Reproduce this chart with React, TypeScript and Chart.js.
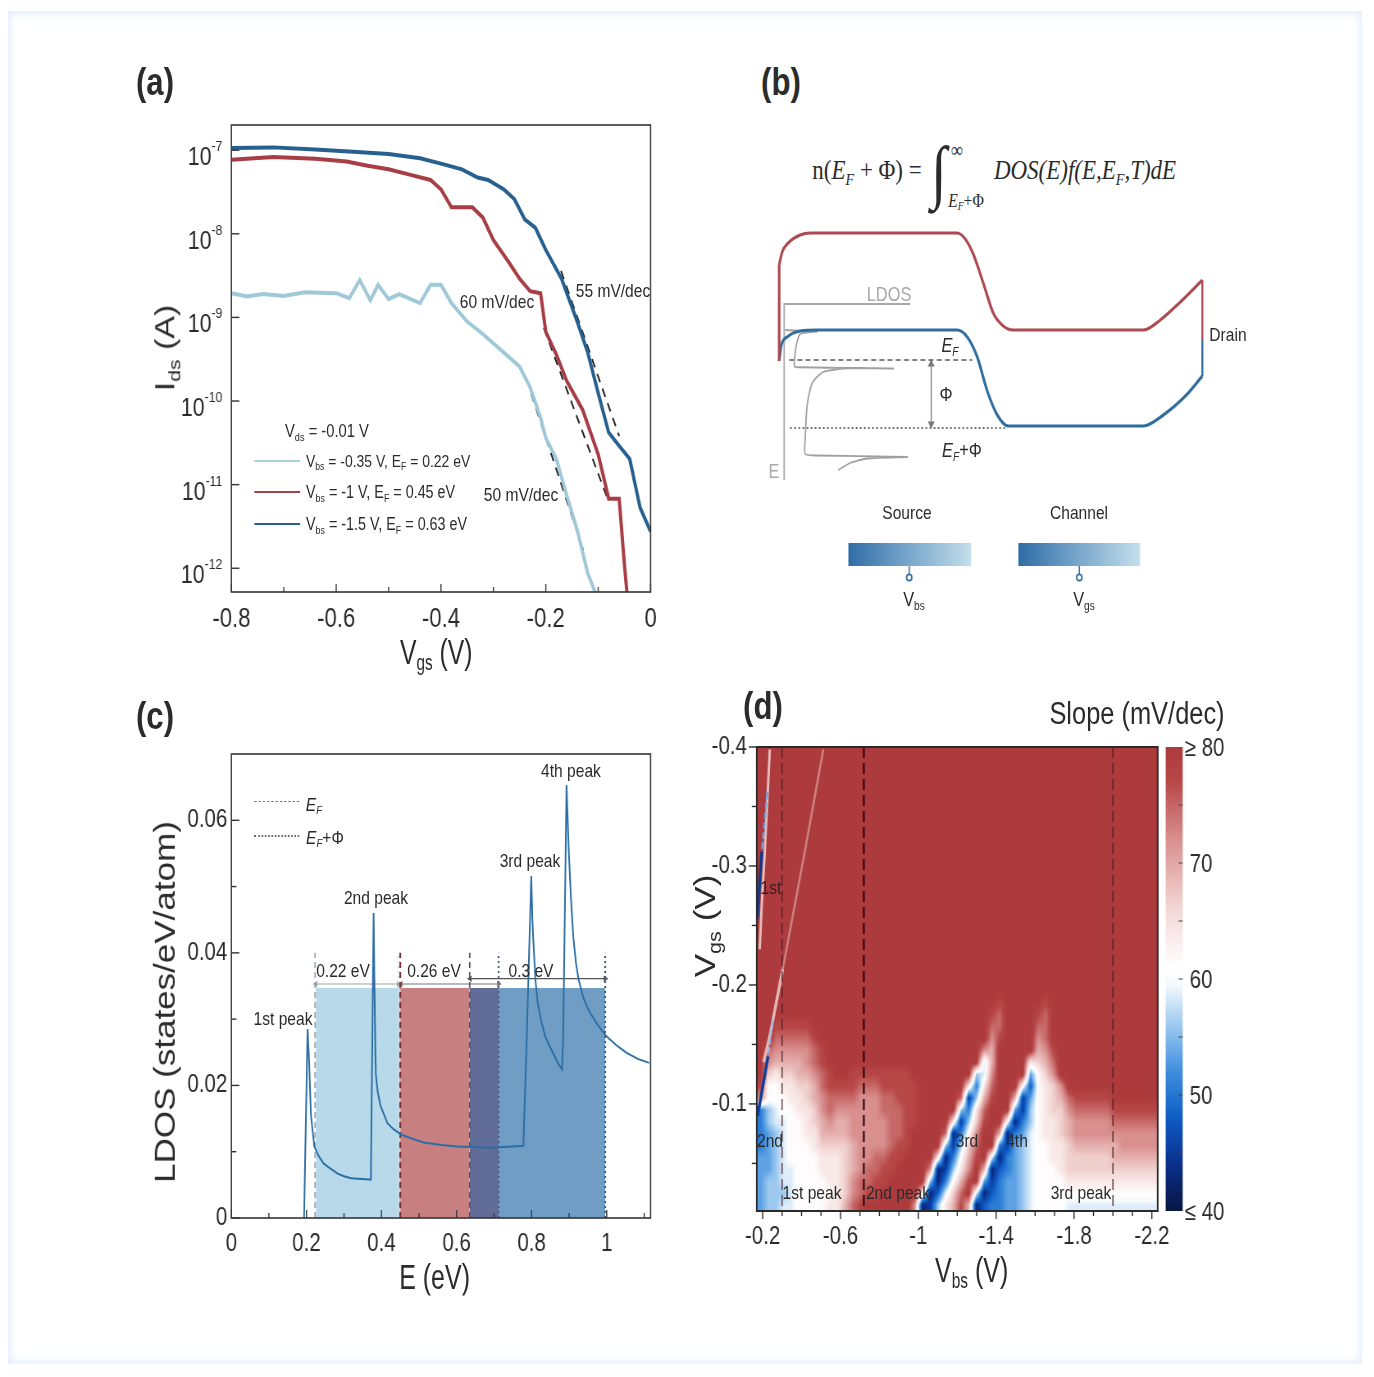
// Four panel figure: transfer curves, band sketch, LDOS and slope map
import React, { useRef, useEffect } from 'react';
import { Chart, registerables } from 'chart.js';

Chart.register(...registerables);

// the picture is narrower than it is tall, so the page is laid out wide and squeezed
const SQUEEZE = 0.82;
const vx = (px: number) => px / SQUEEZE;
const SANS = '"Liberation Sans", Arial, sans-serif';
const SERIF = '"Liberation Serif", serif';
const INK = '#2b2b2b';

// ---- panel (a)
const vgsLight = [-0.8, -0.77, -0.74, -0.7, -0.66, -0.6, -0.575, -0.555, -0.535, -0.52, -0.5, -0.48, -0.44, -0.42, -0.4, -0.38, -0.35, -0.32, -0.28, -0.25, -0.23, -0.21, -0.2, -0.18, -0.16, -0.14, -0.12, -0.105];
const idsLight = [1.95e-9, 1.78e-9, 1.9e-9, 1.8e-9, 2.0e-9, 1.95e-9, 1.7e-9, 2.8e-9, 1.6e-9, 2.45e-9, 1.65e-9, 1.9e-9, 1.48e-9, 2.45e-9, 2.45e-9, 1.48e-9, 8.9e-10, 6.3e-10, 3.8e-10, 2.57e-10, 1.46e-10, 6.3e-11, 3.6e-11, 2.04e-11, 7.4e-12, 2.85e-12, 8.7e-13, 5e-13];
const vgsRed = [-0.8, -0.72, -0.64, -0.58, -0.54, -0.5, -0.46, -0.42, -0.4, -0.38, -0.34, -0.32, -0.3, -0.27, -0.25, -0.23, -0.21, -0.2, -0.18, -0.16, -0.13, -0.1, -0.08, -0.06, -0.05, -0.045];
const idsRed = [7.7e-8, 8.3e-8, 7.9e-8, 7.3e-8, 6.5e-8, 5.9e-8, 5.1e-8, 4.4e-8, 3.4e-8, 2.07e-8, 2.07e-8, 1.56e-8, 8.4e-9, 4.5e-9, 2.9e-9, 2.06e-9, 1.95e-9, 6.7e-10, 3.6e-10, 1.73e-10, 7.9e-11, 2.3e-11, 6.8e-12, 6.8e-12, 1.1e-12, 5e-13];
const vgsDark = [-0.8, -0.72, -0.64, -0.56, -0.5, -0.44, -0.4, -0.36, -0.33, -0.31, -0.28, -0.26, -0.24, -0.22, -0.2, -0.17, -0.14, -0.12, -0.1, -0.08, -0.06, -0.04, -0.02, 0];
const idsDark = [1.06e-7, 1.08e-7, 1.02e-7, 9.5e-8, 9.0e-8, 8.0e-8, 6.9e-8, 5.9e-8, 4.7e-8, 4.4e-8, 3.4e-8, 2.6e-8, 1.48e-8, 1.18e-8, 6.4e-9, 2.9e-9, 8.9e-10, 3.8e-10, 1.24e-10, 4.2e-11, 2.9e-11, 2.04e-11, 5.3e-12, 2.75e-12];
const slope55 = [{ x: -0.171, y: 3.6e-9 }, { x: -0.06, y: 3.8e-11 }];
const slope60 = [{ x: -0.204, y: 7.5e-10 }, { x: -0.083, y: 7e-12 }];
const slope50 = [{ x: -0.228, y: 1.23e-10 }, { x: -0.128, y: 1.6e-12 }];
const vgsTicks = [-0.8, -0.6, -0.4, -0.2, 0];
const vgsMinor = [-0.7, -0.5, -0.3, -0.1];
const idsDecades = [-7, -8, -9, -10, -11, -12];

// ---- panel (b), read in picture units
const redBandX = [779, 782, 788, 800, 810, 957, 965, 973, 983, 993, 1003, 1013, 1143, 1160, 1180, 1202];
const redBandY = [265, 252, 243, 235, 233, 233, 239, 254, 283, 313, 326, 330, 330, 320, 302, 280];
const blueBandX = [779, 781, 787, 800, 817, 957, 967, 977, 987, 997, 1008, 1143, 1163, 1187, 1202];
const blueBandY = [361, 346, 337, 331, 330, 330, 337, 357, 391, 415, 426, 426, 415, 394, 376];
const ldosAxisX = [910, 784, 784];
const ldosAxisY = [304, 304, 480];
const ldosCurveX = [785, 817, 800, 796, 794, 795, 893, 850, 823, 812, 807, 805, 805, 817, 907, 867, 850, 838];
const ldosCurveY = [330, 331.5, 334, 346, 365, 367, 368.5, 368, 372, 383, 405, 439, 454, 455.5, 457, 458.5, 463, 470];
const sourceBar = [848, 971];
const channelBar = [1018, 1140];
const barSpan = [543, 566];

// ---- panel (c)
const energy = [0.1936, 0.203, 0.207, 0.212, 0.221, 0.232, 0.246, 0.265, 0.283, 0.3, 0.319, 0.368, 0.3716, 0.379, 0.381, 0.3835, 0.385, 0.39, 0.397, 0.4156, 0.432, 0.452, 0.48, 0.512, 0.56, 0.604, 0.695, 0.778, 0.787, 0.799, 0.802, 0.804, 0.81, 0.816, 0.824, 0.835, 0.847, 0.87, 0.881, 0.884, 0.893, 0.897, 0.899, 0.905, 0.911, 0.918, 0.925, 0.938, 0.952, 0.975, 0.998, 1.025, 1.053, 1.083, 1.113];
const ldos = [0, 0.0285, 0.0237, 0.0155, 0.0108, 0.0094, 0.0082, 0.0074, 0.0067, 0.0063, 0.006, 0.0058, 0.0058, 0.046, 0.036, 0.0255, 0.0215, 0.019, 0.017, 0.0143, 0.0134, 0.0126, 0.012, 0.0114, 0.011, 0.0108, 0.0106, 0.0109, 0.0272, 0.0516, 0.045, 0.0424, 0.036, 0.0325, 0.0301, 0.0276, 0.026, 0.0234, 0.0224, 0.0272, 0.0653, 0.0585, 0.0553, 0.048, 0.0424, 0.0385, 0.036, 0.0332, 0.0313, 0.0292, 0.0275, 0.0261, 0.0249, 0.024, 0.0234];
const bandEdges = [0.225, 0.45, 0.635, 0.712, 0.996];
const bandColors = ['#b8d9e9', '#c77f80', '#616c97', '#709dc4'];
const bandTop = 0.0347;
const fermiLevels = [0.223, 0.45, 0.635];
const fermiColors = ['#9aa7ad', '#7a3035', '#55596b'];
const shiftedLevels = [0.445, 0.712, 0.996];
const shiftedColors = ['#d8dde0', '#4a5a80', '#35597d'];
const energyTicks = [0, 0.2, 0.4, 0.6, 0.8, 1];
const energyMinor = [0.1, 0.3, 0.5, 0.7, 0.9, 1.1];
const ldosTicks = [0, 0.02, 0.04, 0.06];
const ldosMinor = [0.01, 0.03, 0.05];

// ---- panel (d): slope codes per row from Vgs -0.4 (top) down, Vbs -0.17 to -2.23, 0 = 40 and f = 80 mV/dec
const slopeRows = [
  'f', 'f', 'f', 'f', 'f', 'f', 'f', 'f', 'f', 'f', 'f', 'f', 'f', 'f', 'f', 'f', 'f', 'f', 'f', 'f', 'f',
  'fffff fffff fffff fffff fffff fffff fefff ffeff',
  'fffff fffff fffff fffff fffff fffff edfff fedff',
  'ffeee eefff fffff fffff fffff fffff ddfff fddff',
  'ffddd ddeff fffff fffff fffff fffff cefff fcdff',
  'fdccc ccdef fffff fffff fffff ffffc bffff fbcef',
  'fcbbb bcdef fffff fffff fffff ffff7 bffff 9abdf',
  'fa9aa bbcde ffeee eeeee fffff fff67 cffff 58acf',
  'e8899 aabde eeedd deeee effff ff949 dfff8 389ac',
  'c8889 9abcd dddcc cddee effff fd26b effb2 589ab deeee efffff',
  '46788 99acd ccccc cddde effff f649d fff52 689aa cdddd deeee ee',
  '46778 89abc bbccc ccdde effff 926ae ff814 6899a bcccc cdddd dd',
  '45678 899bb bbccc ccdde ffffd 148cf fb145 7899a bcccc ccccc cc',
  '45678 889aa aabcc ccdee ffff6 26adf f4256 78899 abbbb bbccc cc',
  '55678 88899 9abcc ddeef fff91 48bef 71456 78899 aaaaa abbbb bb',
  '55677 88899 9abcd deeff ffc12 69cfb 13456 78889 aaaaa aaaaa aa',
  '56677 88889 9acdd eefff ff614 8bef5 24556 78888 99999 99999 99',
  '56667 88888 9acde effff f9137 adf71 34556 78888 88888 88888 88',
  '56677 88889 9bdef fffff c1269 beb13 44556 78888 77777 77777 77',
];
const slopeCols = 52;
const vbsRange = [-2.23, -0.17];
const vgsRange = [-0.4, -0.01];
const peakLines = [-0.3, -0.72, -2.0];
const peakWidths = [1.3, 2.2, 1.3];
// thin ridges of the map, too narrow for the grid above
const ridgeFarVbs = [-0.512, -0.42, -0.303];
const ridgeFarVgs = [-0.398, -0.315, -0.213];
const ridgeLowVbs = [-0.303, -0.237, -0.205];
const ridgeLowVgs = [-0.213, -0.157, -0.135];
const ridgeEdgeVbs = [-0.252, -0.228];
const ridgeEdgeVgs = [-0.17, -0.14];
const ridgeDarkVbs = [-0.228, -0.174];
const ridgeDarkVgs = [-0.14, -0.09];
const ridgeNearVbs = [-0.237, -0.224, -0.211, -0.196, -0.185];
const ridgeNearVgs = [-0.398, -0.355, -0.312, -0.269, -0.23];
const ridgeBlueVbs = [-0.224, -0.196];
const ridgeBlueVgs = [-0.362, -0.312];
const ridgeNavyVbs = [-0.196, -0.172];
const ridgeNavyVgs = [-0.312, -0.256];
const vbsTicks = [-0.2, -0.6, -1, -1.4, -1.8, -2.2];
const vbsMinor = [-0.3, -0.4, -0.5, -0.7, -0.8, -0.9, -1.1, -1.2, -1.3, -1.5, -1.6, -1.7, -1.9, -2, -2.1];
const vgsMapTicks = [-0.4, -0.3, -0.2, -0.1];
const vgsMapMinor = [-0.35, -0.25, -0.15, -0.05];
const barTicks = [40, 50, 60, 70, 80];
const barLabels = ['≤ 40', '50', '60', '70', '≥ 80'];
const barMinor = [45, 50, 55, 60, 65, 70, 75];
const slopeStops: [number, number[]][] = [
  [40, [8, 22, 64]], [44, [10, 47, 140]], [48, [15, 92, 196]], [52, [62, 142, 222]], [56, [156, 200, 239]],
  [59.5, [244, 249, 253]], [61, [255, 255, 255]], [66, [243, 216, 214]], [72, [216, 143, 142]], [77, [184, 72, 72]], [80, [173, 58, 60]],
];

const slopeColor = (v: number) => {
  for (let i = 1; i < slopeStops.length; i++) {
    const [b, cb] = slopeStops[i];
    if (v <= b) {
      const [a, ca] = slopeStops[i - 1];
      const t = Math.max(0, (v - a) / (b - a));
      return ca.map((c, j) => c + (cb[j] - c) * t);
    }
  }
  return slopeStops[slopeStops.length - 1][1];
};

const zip = (xs: number[], ys: number[]) => xs.map((x, i) => ({ x, y: ys[i] }));
const vertical = (x: number, y0: number, y1: number) => [{ x, y: y0 }, { x, y: y1 }];
const fixedTicks = (list: number[]) => (scale: any) => { scale.ticks = list.map((value) => ({ value })); };
const shortNum = (v: any) => String(+Number(v).toFixed(2));

const line = (data: any[], color: string, width: number, extra: any = {}) => ({
  type: 'scatter', data, showLine: true, borderColor: color, borderWidth: width, pointRadius: 0, fill: false, tension: 0, ...extra,
});

// frame and inward or outward tick marks, placed by the scales
const frameTicks = (o: any) => ({
  id: 'frameTicks',
  afterDraw(chart: any) {
    const { ctx, chartArea: a, scales } = chart;
    ctx.save();
    ctx.strokeStyle = o.color || '#333';
    ctx.lineWidth = 1.4;
    const mark = (x0: number, y0: number, x1: number, y1: number) => {
      ctx.beginPath(); ctx.moveTo(x0, y0); ctx.lineTo(x1, y1); ctx.stroke();
    };
    const xTicks = (list: number[], len: number) => list.forEach((v) => {
      const px = scales.x.getPixelForValue(v);
      mark(px, a.bottom, px, a.bottom - len * o.dir);
    });
    const yTicks = (list: number[], len: number) => list.forEach((v) => {
      const py = scales.y.getPixelForValue(v);
      mark(a.left, py, a.left + (len / SQUEEZE) * o.dir, py);
    });
    xTicks(o.xMajor, 8); xTicks(o.xMinor, 5);
    yTicks(o.yMajor, 8); yTicks(o.yMinor, 5);
    ctx.lineWidth = o.frame || 1.6;
    ctx.strokeRect(a.left, a.top, a.right - a.left, a.bottom - a.top);
    ctx.restore();
  },
});

// "10" with a raised exponent for the log axis
const decadeLabels = {
  id: 'decadeLabels',
  afterDraw(chart: any) {
    const { ctx, chartArea: a, scales } = chart;
    ctx.save();
    ctx.fillStyle = INK;
    ctx.textAlign = 'right';
    idsDecades.forEach((d) => {
      const py = scales.y.getPixelForValue(Math.pow(10, d));
      ctx.font = `15px ${SANS}`;
      const exp = String(d);
      ctx.fillText(exp, a.left - vx(9), py + 1);
      const w = ctx.measureText(exp).width;
      ctx.font = `26px ${SANS}`;
      ctx.fillText('10', a.left - vx(9) - w, py + 15);
    });
    ctx.restore();
  },
};

const heatmap = {
  id: 'heatmap',
  beforeDatasetsDraw(chart: any) {
    const { ctx, chartArea: a, scales } = chart;
    const rows = slopeRows.map((r) => r.replace(/ /g, '').padEnd(slopeCols, 'f').split('').map((ch) => 40 + (parseInt(ch, 16) * 40) / 15));
    const w = Math.ceil(a.right - a.left);
    const h = Math.ceil(a.bottom - a.top);
    const off = document.createElement('canvas');
    off.width = w; off.height = h;
    const octx = off.getContext('2d') as CanvasRenderingContext2D;
    const img = octx.createImageData(w, h);
    const colStep = (vbsRange[1] - vbsRange[0]) / slopeCols;
    const rowStep = (vgsRange[1] - vgsRange[0]) / rows.length;
    for (let py = 0; py < h; py++) {
      const fr = Math.min(rows.length - 1, Math.max(0, (scales.y.getValueForPixel(a.top + py + 0.5) - vgsRange[0]) / rowStep - 0.5));
      const r0 = Math.floor(fr);
      const r1 = Math.min(rows.length - 1, r0 + 1);
      for (let px = 0; px < w; px++) {
        const fc = Math.min(slopeCols - 1, Math.max(0, (vbsRange[1] - scales.x.getValueForPixel(a.left + px + 0.5)) / colStep - 0.5));
        const c0 = Math.floor(fc);
        const c1 = Math.min(slopeCols - 1, c0 + 1);
        const top = rows[r0][c0] + (rows[r0][c1] - rows[r0][c0]) * (fc - c0);
        const bot = rows[r1][c0] + (rows[r1][c1] - rows[r1][c0]) * (fc - c0);
        const rgb = slopeColor(top + (bot - top) * (fr - r0));
        const i = (py * w + px) * 4;
        img.data[i] = rgb[0]; img.data[i + 1] = rgb[1]; img.data[i + 2] = rgb[2]; img.data[i + 3] = 255;
      }
    }
    octx.putImageData(img, 0, 0);
    ctx.drawImage(off, a.left, a.top, a.right - a.left, a.bottom - a.top);
  },
  afterDraw(chart: any) {
    const { ctx, chartArea: a, scales } = chart;
    const x0 = a.right + vx(8);
    const bw = vx(17);
    for (let py = Math.floor(a.top); py < a.bottom; py++) {
      const rgb = slopeColor(scales.s.getValueForPixel(py + 0.5));
      ctx.fillStyle = `rgb(${rgb[0]},${rgb[1]},${rgb[2]})`;
      ctx.fillRect(x0, py, bw, 1);
    }
    ctx.strokeStyle = '#444';
    ctx.lineWidth = 1;
    barMinor.forEach((v) => {
      const py = scales.s.getPixelForValue(v);
      ctx.beginPath(); ctx.moveTo(x0 + bw, py); ctx.lineTo(x0 + bw - 5, py); ctx.stroke();
    });
    ctx.fillStyle = INK;
    ctx.font = `25px ${SANS}`;
    ctx.textBaseline = 'middle';
    ctx.textAlign = 'left';
    barTicks.forEach((v, i) => {
      const inset = barLabels[i].length > 2 ? 27 : 32;
      ctx.fillText(barLabels[i], a.right + vx(inset), scales.s.getPixelForValue(v) + 2);
    });
  },
};

const baseOptions = (pad: any, scales: any) => ({
  responsive: false,
  animation: false as const,
  events: [],
  layout: { padding: pad, autoPadding: false },
  plugins: { legend: { display: false }, tooltip: { enabled: false } },
  scales,
});

const axisX = (opts: any, labels: number[], height: number, fmt = shortNum, size = 26, padding = 11) => ({
  type: 'linear', ...opts,
  grid: { display: false, drawTicks: false }, border: { display: false },
  afterBuildTicks: fixedTicks(labels),
  afterFit: (s: any) => { s.height = height; },
  ticks: { color: INK, font: { family: SANS, size }, padding, maxRotation: 0, autoSkip: false, callback: fmt },
});

const axisY = (opts: any, labels: number[], width: number, fmt = shortNum, size = 26, padding = 6) => ({
  type: 'linear', ...opts,
  grid: { display: false, drawTicks: false }, border: { display: false },
  afterBuildTicks: fixedTicks(labels),
  afterFit: (s: any) => { s.width = width; },
  ticks: { color: INK, font: { family: SANS, size }, padding, autoSkip: false, callback: fmt },
});

const configA = () => ({
  type: 'scatter',
  data: {
    datasets: [
      line(zip(vgsDark, idsDark), '#27608f', 4),
      line(zip(vgsRed, idsRed), '#a83d45', 4),
      line(zip(vgsLight, idsLight), '#9fc8d8', 4),
      line(slope55, '#222', 2, { borderDash: [9, 7] }),
      line(slope60, '#222', 2, { borderDash: [9, 7] }),
      line(slope50, '#222', 2, { borderDash: [9, 7] }),
    ],
  },
  options: baseOptions({ top: 25, right: vx(30) }, {
    x: axisX({ min: -0.8, max: 0 }, vgsTicks, 68, shortNum, 27),
    y: {
      ...axisY({ min: 5.2e-13, max: 2e-7 }, idsDecades.map((d) => Math.pow(10, d)), vx(101), () => ''),
      type: 'logarithmic',
    },
  }),
  plugins: [frameTicks({ dir: 1, xMajor: vgsTicks, xMinor: vgsMinor, yMajor: idsDecades.map((d) => Math.pow(10, d)), yMinor: [] }), decadeLabels],
});

const barGradient = (span: number[]) => (ctx: any) => {
  const { chart } = ctx;
  const x0 = chart.scales.x?.getPixelForValue(span[0]);
  const x1 = chart.scales.x?.getPixelForValue(span[1]);
  if (!Number.isFinite(x0) || !Number.isFinite(x1)) return '#7aa8cd';
  const g = chart.ctx.createLinearGradient(x0, 0, x1, 0);
  g.addColorStop(0, '#2f6ca6');
  g.addColorStop(0.5, '#7aa8cd');
  g.addColorStop(1, '#c4dfeb');
  return g;
};

const barDataset = (span: number[]) => ({
  type: 'scatter', showLine: true, pointRadius: 0, borderWidth: 0,
  data: [{ x: span[0], y: barSpan[1] }, { x: span[0], y: barSpan[0] }, { x: span[1], y: barSpan[0] }, { x: span[1], y: barSpan[1] }],
  fill: { value: barSpan[1] },
  backgroundColor: barGradient(span),
});

const terminal = (x: number) => [
  line(vertical(x, barSpan[1], 574), '#2f6d9e', 1.5),
  line([{ x, y: 577.5 }], '#2f6d9e', 0, { pointRadius: 3.2, pointBorderWidth: 1.8, pointBorderColor: '#2f6d9e', pointBackgroundColor: '#fff', showLine: false }),
];

const configB = () => ({
  type: 'scatter',
  data: {
    datasets: [
      line(zip(redBandX, redBandY), '#ac4a50', 3.2, { cubicInterpolationMode: 'monotone' }),
      line(vertical(779, 265, 361), '#ac4a50', 3.2),
      line(vertical(1202, 280, 340), '#ac4a50', 2.4),
      line(zip(blueBandX, blueBandY), '#2f6d9e', 3.2, { cubicInterpolationMode: 'monotone' }),
      line(vertical(1202, 340, 376), '#2f6d9e', 2.4),
      line(zip(ldosAxisX, ldosAxisY), '#a8a8a8', 1.8),
      line(zip(ldosCurveX, ldosCurveY), '#a0a0a0', 1.8, { tension: 0.2 }),
      line([{ x: 789, y: 360 }, { x: 972, y: 360 }], '#555', 1.6, { borderDash: [6, 4] }),
      line([{ x: 790, y: 428 }, { x: 1007, y: 428 }], '#666', 2, { borderDash: [2, 3] }),
      line(vertical(931, 364, 424), '#777', 1.3, {
        pointRadius: 3.5, pointStyle: 'triangle', pointRotation: [0, 180], pointBackgroundColor: '#777', pointBorderColor: '#777',
      }),
      barDataset(sourceBar),
      barDataset(channelBar),
      ...terminal(909),
      ...terminal(1079),
    ],
  },
  options: baseOptions(0, {
    x: { type: 'linear', display: false, min: 760, max: 1260 },
    y: { type: 'linear', display: false, reverse: true, min: 220, max: 630 },
  }),
});

const bandDatasets = () => bandColors.map((color, i) => {
  const [a, b] = [bandEdges[i], bandEdges[i + 1]];
  return {
    type: 'scatter', showLine: true, pointRadius: 0, borderWidth: 0, order: 3,
    data: [{ x: a, y: bandTop }, { x: b, y: bandTop }],
    fill: 'origin', backgroundColor: color,
  };
});

const bracket = (a: number, b: number, y: number, color: string) => line([{ x: a, y }, { x: b, y }], color, 1.2, {
  order: 1, pointRadius: 2.5, pointStyle: 'triangle', pointRotation: [270, 90], pointBackgroundColor: color, pointBorderColor: color,
});

const configC = () => ({
  type: 'scatter',
  data: {
    datasets: [
      line(zip(energy, ldos), '#2a6ea6', 2, { order: 0 }),
      ...fermiLevels.map((x, i) => line(vertical(x, 0, 0.04), fermiColors[i], i === 1 ? 2.2 : 1.8, { order: 1, borderDash: [6, 4] })),
      ...shiftedLevels.map((x, i) => line(vertical(x, 0, 0.04), shiftedColors[i], 2.2, { order: 1, borderDash: [2, 3] })),
      bracket(0.225, 0.445, 0.0353, '#9aa3a8'),
      bracket(0.452, 0.712, 0.0353, '#777'),
      bracket(0.636, 0.996, 0.0361, '#555'),
      ...bandDatasets(),
    ],
  },
  options: baseOptions({ top: 24, right: vx(30) }, {
    x: axisX({ min: 0, max: 1.117 }, energyTicks, 62, shortNum, 25),
    y: axisY({ min: 0, max: 0.07 }, ldosTicks, vx(101), shortNum, 25, 5),
  }),
  plugins: [frameTicks({ dir: 1, xMajor: energyTicks, xMinor: energyMinor, yMajor: ldosTicks, yMinor: ldosMinor })],
});

const configD = () => ({
  type: 'scatter',
  data: {
    datasets: [
      ...peakLines.map((x, i) => line(vertical(x, vgsRange[0], vgsRange[1]), i === 1 ? '#2b0a10' : '#4a2226', peakWidths[i], { borderDash: [11, 5] })),
      line(zip(ridgeDarkVbs, ridgeDarkVgs), '#123f9a', 3.5),
      line(zip(ridgeEdgeVbs, ridgeEdgeVgs), '#8fb6e4', 2.5, { borderDash: [6, 3] }),
      line(zip(ridgeNavyVbs, ridgeNavyVgs), '#0e3a8c', 3.5),
      line(zip(ridgeBlueVbs, ridgeBlueVgs), '#6f9fdc', 2.5, { borderDash: [7, 3] }),
      line(zip(ridgeLowVbs, ridgeLowVgs), '#e4b6b5', 3.5),
      line(zip(ridgeFarVbs, ridgeFarVgs), '#cc8280', 2.6),
      line(zip(ridgeNearVbs, ridgeNearVgs), '#e6bcbb', 3),
    ],
  },
  options: baseOptions({ top: 25, right: vx(92) }, {
    x: axisX({ min: vbsRange[0], max: vbsRange[1], reverse: true }, vbsTicks, 59, shortNum, 25),
    y: axisY({ min: vgsRange[0], max: vgsRange[1], reverse: true }, vgsMapTicks, vx(77), shortNum, 25, 12),
    s: { type: 'linear', axis: 'y', position: 'right', display: false, min: 40, max: 80 },
  }),
  plugins: [heatmap, frameTicks({ dir: -1, color: '#2a2a2a', frame: 2, xMajor: vbsTicks, xMinor: vbsMinor, yMajor: vgsMapTicks, yMinor: vgsMapMinor })],
});

// one chart on an absolutely placed canvas; sizes are given in picture pixels
const Panel: React.FC<{ x: number; y: number; w: number; h: number; make: () => any }> = ({ x, y, w, h, make }) => {
  const ref = useRef<HTMLCanvasElement>(null);
  useEffect(() => {
    if (!ref.current) return;
    const chart = new Chart(ref.current, make());
    return () => chart.destroy();
  }, [make]);
  return (
    <div style={{ position: 'absolute', left: vx(x), top: y, width: vx(w), height: h }}>
      <canvas ref={ref} width={Math.round(vx(w))} height={h} />
    </div>
  );
};

const Sub: React.FC<{ children: React.ReactNode; size?: string }> = ({ children, size = '.62em' }) => (
  <span style={{ fontSize: size, verticalAlign: '-.32em', lineHeight: 0 }}>{children}</span>
);

const T: React.FC<any> = ({ x, y, size = 19, color = INK, bold, italic, serif, rot, left, sx, children }) => (
  <div
    style={{
      position: 'absolute', left: vx(x), top: y, whiteSpace: 'pre', lineHeight: 1, color, fontSize: size,
      fontFamily: serif ? SERIF : SANS, fontWeight: bold ? 700 : 400, fontStyle: italic ? 'italic' : 'normal',
      transform: `translate(${left ? '0' : '-50%'},-50%)${rot ? ' rotate(-90deg)' : ''}${sx ? ` scaleX(${sx})` : ''}`,
    }}
  >
    {children}
  </div>
);

const Stroke: React.FC<any> = ({ x, y, w, color, h = 2.5, dash }) => (
  <div style={{ position: 'absolute', left: vx(x), top: y, width: vx(w), borderTop: `${h}px ${dash || 'solid'} ${color}` }} />
);

export default function App() {
  return (
    <div
      style={{
        position: 'absolute', left: 0, top: 0, width: vx(1374), height: 1377, background: '#fff',
        transform: `scaleX(${SQUEEZE})`, transformOrigin: '0 0', overflow: 'hidden', filter: 'blur(0.4px)',
      }}
    >
      <div style={{ position: 'absolute', left: vx(8), top: 11, width: vx(1354), height: 1353, boxShadow: 'inset 0 0 9px 2px #e0ecfb' }} />

      <Panel x={130} y={100} w={550} h={560} make={configA} />
      <Panel x={760} y={220} w={500} h={410} make={configB} />
      <Panel x={130} y={730} w={550} h={550} make={configC} />
      <Panel x={680} y={720} w={570} h={550} make={configD} />

      <T x={155} y={82} size={38} bold>(a)</T>
      <T x={781} y={82} size={38} bold>(b)</T>
      <T x={155} y={716} size={38} bold>(c)</T>
      <T x={763} y={706} size={38} bold>(d)</T>

      {/* panel a text */}
      <T x={165} y={348} size={34} rot>I<Sub>ds</Sub> (A)</T>
      <T x={436} y={651} size={35} sx={0.86}>V<Sub>gs</Sub> (V)</T>
      <T x={327} y={431} size={18}>V<Sub>ds</Sub> = -0.01 V</T>
      <T x={306} y={461} size={17} left>V<Sub>bs</Sub> = -0.35 V, E<Sub>F</Sub> = 0.22 eV</T>
      <T x={306} y={493} size={17.5} left>V<Sub>bs</Sub> = -1 V, E<Sub>F</Sub> = 0.45 eV</T>
      <T x={306} y={525} size={17.5} left>V<Sub>bs</Sub> = -1.5 V, E<Sub>F</Sub> = 0.63 eV</T>
      <Stroke x={254} y={460} w={46} color="#a9cfdd" />
      <Stroke x={254} y={491} w={46} color="#a83d45" />
      <Stroke x={254} y={523} w={46} color="#27608f" />
      <T x={497} y={301} size={19}>60 mV/dec</T>
      <T x={613} y={290} size={19}>55 mV/dec</T>
      <T x={521} y={494} size={19}>50 mV/dec</T>

      {/* panel b text */}
      <T x={867} y={170} size={28} serif>n(<i>E<Sub>F</Sub></i> + Φ) =</T>
      <T x={939} y={172} size={70} serif>∫</T>
      <T x={957} y={150} size={21} serif>∞</T>
      <T x={966} y={200} size={19} serif><i>E<Sub>F</Sub></i>+Φ</T>
      <T x={1085} y={170} size={28} serif italic>DOS(E)f(E,E<Sub>F</Sub>,T)dE</T>
      <T x={889} y={294} size={20} color="#a8a8a8">LDOS</T>
      <T x={950} y={345} size={20} italic>E<Sub>F</Sub></T>
      <T x={946} y={394} size={20}>Φ</T>
      <T x={962} y={450} size={20}><i>E<Sub>F</Sub></i>+Φ</T>
      <T x={774} y={471} size={20} color="#aaa">E</T>
      <T x={1228} y={334} size={19}>Drain</T>
      <T x={907} y={512} size={19}>Source</T>
      <T x={1079} y={512} size={19}>Channel</T>
      <T x={914} y={599} size={20}>V<Sub>bs</Sub></T>
      <T x={1084} y={599} size={20}>V<Sub>gs</Sub></T>

      {/* panel c text */}
      <T x={165} y={1002} size={35} rot>LDOS (states/eV/atom)</T>
      <T x={435} y={1276} size={35} sx={0.87}>E (eV)</T>
      <T x={283} y={1018} size={19}>1st peak</T>
      <T x={376} y={897} size={19}>2nd peak</T>
      <T x={530} y={860} size={19}>3rd peak</T>
      <T x={571} y={770} size={19}>4th peak</T>
      <T x={343} y={970} size={19}>0.22 eV</T>
      <T x={434} y={970} size={19}>0.26 eV</T>
      <T x={531} y={970} size={19}>0.3 eV</T>
      <Stroke x={254} y={801} w={45} color="#666" h={1.6} dash="dashed" />
      <Stroke x={254} y={835} w={45} color="#666" h={2} dash="dotted" />
      <T x={314} y={804} size={19} italic>E<Sub>F</Sub></T>
      <T x={325} y={837} size={19}><i>E<Sub>F</Sub></i>+Φ</T>

      {/* panel d text */}
      <T x={705} y={926} size={35} rot>V<Sub>gs</Sub> (V)</T>
      <T x={972} y={1269} size={35} sx={0.87}>V<Sub>bs</Sub> (V)</T>
      <T x={1137} y={713} size={31}>Slope (mV/dec)</T>
      <T x={771} y={887} size={19} color="#3a1a20">1st</T>
      <T x={770} y={1140} size={19}>2nd</T>
      <T x={967} y={1140} size={19}>3rd</T>
      <T x={1017} y={1140} size={19}>4th</T>
      <T x={812} y={1192} size={19}>1st peak</T>
      <T x={898} y={1192} size={19}>2nd peak</T>
      <T x={1081} y={1192} size={19}>3rd peak</T>
    </div>
  );
}
